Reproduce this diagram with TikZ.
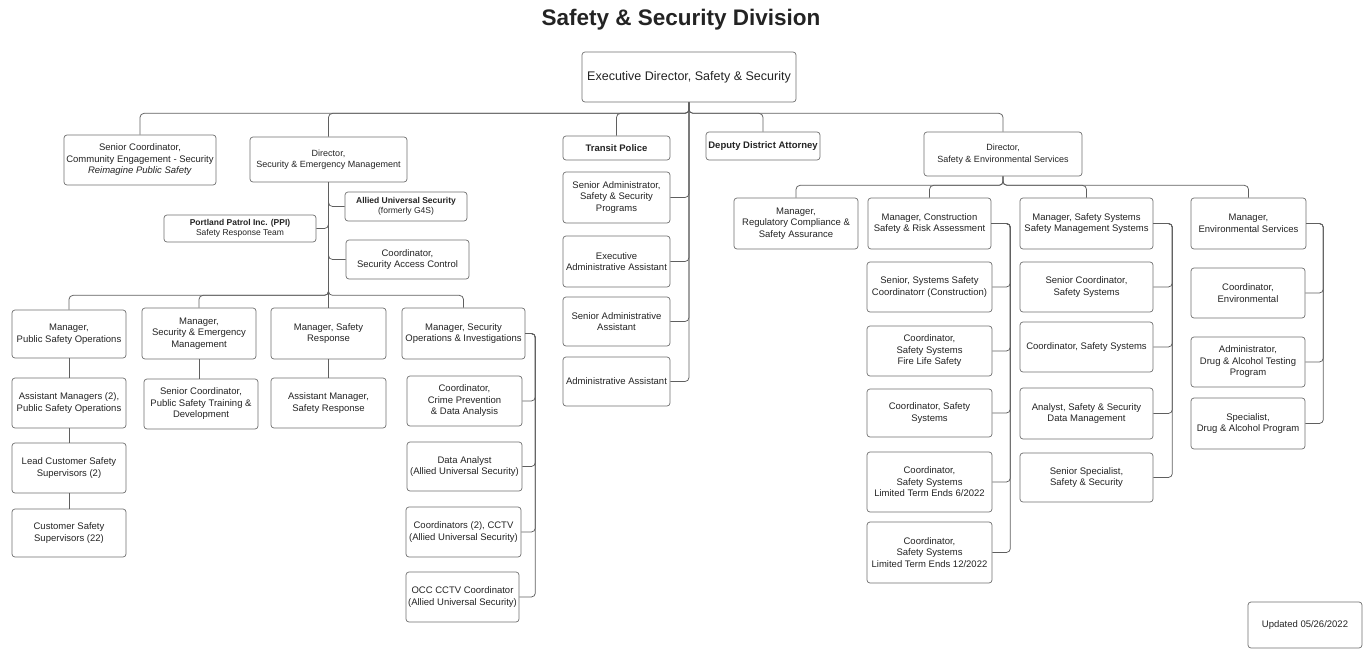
\documentclass[tikz,border=0pt]{standalone}
\usepackage{fontspec}
\setmainfont{Liberation Sans}
\usepackage{tikz}
\definecolor{orgline}{RGB}{95,95,95}
\definecolor{orgedge}{RGB}{110,110,110}
\definecolor{orgtext}{RGB}{35,35,35}
\tikzset{
  obox/.style  ={draw=orgedge,line width=0.7pt,rounded corners=3pt,align=center,
                 inner sep=1pt,text=orgtext,font=\fontsize{9.5}{11.5}\selectfont},
  osmall/.style={font=\fontsize{8.5}{10.5}\selectfont},
  olink/.style ={draw=orgline,line width=0.75pt,rounded corners=4pt},
  ttl/.style   ={font=\fontsize{22.5}{26}\selectfont\bfseries,text=orgtext},
}
% name, x1, y1, x2, y2, text
\newcommand{\orgbox}[7][]{%
  \pgfmathsetmacro{\obw}{#5-#3}%
  \pgfmathsetmacro{\obh}{#6-#4}%
  \node[obox,#1,minimum width=\obw pt,minimum height=\obh pt] (#2) at ({(#3+#5)/2},{(#4+#6)/2}) {#7};}

\begin{document}
\begin{tikzpicture}[x=1pt,y=-1pt]
  \useasboundingbox (0,0) rectangle (1367,649);
  \node[ttl] (title) at (681,20) {Safety \& Security Division};
  \orgbox[font=\fontsize{12.5}{14}\selectfont]{exec}{582}{52}{796}{102}{Executive Director, Safety \& Security}
  % first row
  \orgbox{sencoord}{64}{135}{216}{185}{Senior Coordinator,\\Community Engagement - Security\\\textit{Reimagine Public Safety}}
  \orgbox[font=\fontsize{9}{11.5}\selectfont]{dirsem}{250}{137}{407}{182}{Director,\\Security \& Emergency Management}
  \orgbox[osmall]{allied}{345}{192}{467}{221}{\textbf{Allied Universal Security}\\(formerly G4S)}
  \orgbox[osmall]{ppi}{164}{215}{316}{242}{\textbf{Portland Patrol Inc. (PPI)}\\Safety Response Team}
  \orgbox{sac}{346}{240}{469}{279}{Coordinator,\\Security Access Control}
  \orgbox{transit}{563}{136}{670}{160}{\textbf{Transit Police}}
  \orgbox{sadmin}{563}{172}{670}{223}{Senior Administrator,\\Safety \& Security\\Programs}
  \orgbox{eaa}{563}{236}{670}{287}{Executive\\Administrative Assistant}
  \orgbox{saa}{563}{297}{670}{346}{Senior Administrative\\Assistant}
  \orgbox{aa}{563}{357}{670}{406}{Administrative Assistant}
  \orgbox{deputy}{706}{132}{820}{160}{\textbf{Deputy District Attorney}}
  \orgbox[font=\fontsize{9}{11.5}\selectfont]{dirses}{924}{132}{1082}{176}{Director,\\Safety \& Environmental Services}
  % security & emergency management
  \orgbox{mpso}{12}{310}{126}{358}{Manager,\\Public Safety Operations}
  \orgbox{am2}{12}{378}{126}{428}{Assistant Managers (2),\\Public Safety Operations}
  \orgbox{lcs}{12}{443}{126}{493}{Lead Customer Safety\\Supervisors (2)}
  \orgbox{css}{12}{509}{126}{557}{Customer Safety\\Supervisors (22)}
  \orgbox{mse}{142}{308}{256}{359}{Manager,\\Security \& Emergency\\Management}
  \orgbox{pstd}{144}{379}{258}{429}{Senior Coordinator,\\Public Safety Training \&\\Development}
  \orgbox{msr}{271}{308}{386}{359}{Manager, Safety\\Response}
  \orgbox{amsr}{271}{378}{386}{428}{Assistant Manager,\\Safety Response}
  \orgbox{msecops}{402}{308}{525}{359}{Manager, Security\\Operations \& Investigations}
  \orgbox{crime}{407}{376}{522}{426}{Coordinator,\\Crime Prevention\\\& Data Analysis}
  \orgbox{da}{407}{442}{522}{491}{Data Analyst\\(Allied Universal Security)}
  \orgbox{cctv}{406}{507}{521}{557}{Coordinators (2), CCTV\\(Allied Universal Security)}
  \orgbox{occ}{406}{572}{519}{622}{OCC CCTV Coordinator\\(Allied Universal Security)}
  % safety & environmental services
  \orgbox{reg}{734}{198}{858}{249}{Manager,\\Regulatory Compliance \&\\Safety Assurance}
  \orgbox{constr}{868}{198}{991}{249}{Manager, Construction\\Safety \& Risk Assessment}
  \orgbox{safsys}{1020}{198}{1153}{249}{Manager, Safety Systems\\Safety Management Systems}
  \orgbox{env}{1191}{198}{1306}{249}{Manager,\\Environmental Services}
  \orgbox{con1}{867}{262}{992}{312}{Senior, Systems Safety\\Coordinatorr (Construction)}
  \orgbox{con2}{867}{326}{992}{376}{Coordinator,\\Safety Systems\\Fire Life Safety}
  \orgbox{con3}{867}{389}{992}{437}{Coordinator, Safety\\Systems}
  \orgbox{con4}{867}{452}{992}{512}{Coordinator,\\Safety Systems\\Limited Term Ends 6/2022}
  \orgbox{con5}{867}{522}{992}{583}{Coordinator,\\Safety Systems\\Limited Term Ends 12/2022}
  \orgbox{sys1}{1020}{262}{1153}{312}{Senior Coordinator,\\Safety Systems}
  \orgbox{sys2}{1020}{322}{1153}{372}{Coordinator, Safety Systems}
  \orgbox{sys3}{1020}{388}{1153}{439}{Analyst, Safety \& Security\\Data Management}
  \orgbox{sys4}{1020}{453}{1153}{502}{Senior Specialist,\\Safety \& Security}
  \orgbox{env1}{1191}{268}{1305}{318}{Coordinator,\\Environmental}
  \orgbox{env2}{1191}{337}{1305}{387}{Administrator,\\Drug \& Alcohol Testing\\Program}
  \orgbox{env3}{1191}{398}{1305}{449}{Specialist,\\Drug \& Alcohol Program}
  \orgbox{updated}{1248}{602}{1362}{648}{Updated 05/26/2022}
  % connectors
  \foreach \t in {sencoord,dirsem,transit,deputy,dirses}
    \draw[olink] (exec.south) -- ++(0,11) -| (\t.north);
  \foreach \t in {sadmin,eaa,saa,aa}
    \draw[olink] (exec.south) |- (\t.east);
  \draw[olink] (dirsem.south) -- (msr.north);
  \draw[olink] (dirsem.south) |- (allied.west);
  \draw[olink] (dirsem.south) |- (ppi.east);
  \draw[olink] (dirsem.south) |- (sac.west);
  \foreach \t in {mpso,mse,msecops}
    \draw[olink] (dirsem.south) -- ++(0,113) -| (\t.north);
  \draw[olink] (mpso) -- (am2);
  \draw[olink] (am2) -- (lcs);
  \draw[olink] (lcs) -- (css);
  \draw[olink] (mse.south) -- (mse.south |- pstd.north);
  \draw[olink] (msr) -- (amsr);
  \foreach \t in {crime,da,cctv,occ}
    \draw[olink] (msecops.east) -- ++(10,0) |- (\t.east);
  \foreach \t in {reg,constr,safsys,env}
    \draw[olink] (dirses.south) -- ++(0,9) -| (\t.north);
  \foreach \t in {con1,con2,con3,con4,con5}
    \draw[olink] (constr.east) -- ++(19,0) |- (\t.east);
  \foreach \t in {sys1,sys2,sys3,sys4}
    \draw[olink] (safsys.east) -- ++(19,0) |- (\t.east);
  \foreach \t in {env1,env2,env3}
    \draw[olink] (env.east) -- ++(17,0) |- (\t.east);
\end{tikzpicture}
\end{document}
